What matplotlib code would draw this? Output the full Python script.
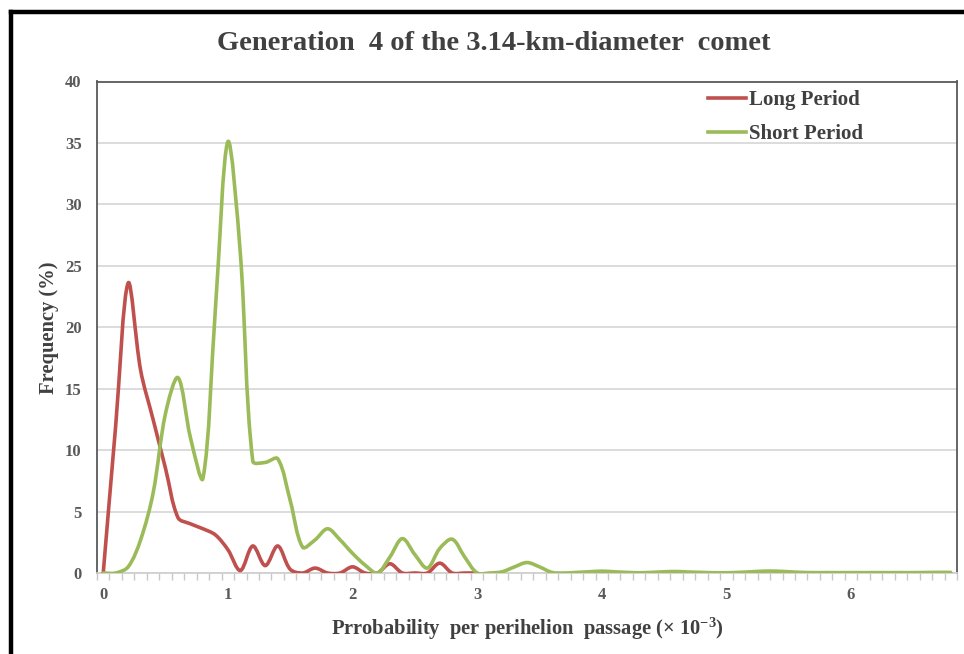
import matplotlib
matplotlib.use("Agg")
import matplotlib.pyplot as plt
import numpy as np
from matplotlib.path import Path
from matplotlib.patches import PathPatch
from matplotlib.lines import Line2D

plt.rcParams['font.family'] = ['Liberation Serif', 'DejaVu Serif']
plt.rcParams['font.weight'] = 'bold'
plt.rcParams['mathtext.fontset'] = 'custom'
plt.rcParams['mathtext.rm'] = 'Liberation Serif:bold'
plt.rcParams['mathtext.it'] = 'Liberation Serif:bold'

# categories: probability per perihelion passage (x 10^-3), step 0.1
prob = np.round(np.arange(0, 6.85, 0.1), 1)

long_period = [0, 12, 23.6, 16.5, 12.5, 8.5, 4.5, 4.0, 3.6, 3.1,
               1.9, 0.2, 2.2, 0.6, 2.2, 0.3, 0, 0.4, 0, 0,
               0.5, 0, 0, 0.75, 0, 0, 0, 0.8, 0, 0,
               0]

short_period = [0, 0, 0.5, 2.7, 6.5, 13.0, 15.9, 11.0, 7.7, 21.5,
                35.1, 26.0, 9.1, 9.0, 9.3, 5.9, 2.1, 2.7, 3.6, 2.7,
                1.6, 0.65, 0, 1.3, 2.8, 1.5, 0.4, 2.0, 2.75, 1.3,
                0, 0, 0.1, 0.5, 0.85, 0.5, 0.05, 0, 0.05, 0.1,
                0.15, 0.1, 0.05, 0.02, 0.05, 0.1, 0.12, 0.08, 0.05, 0.02,
                0.02, 0.05, 0.1, 0.15, 0.15, 0.1, 0.05, 0.03, 0.03, 0.03,
                0.03, 0.03, 0.03, 0.03, 0.03, 0.03, 0.04, 0.05, 0.05]

series = [("Long Period", long_period, "#C0504D"),
          ("Short Period", short_period, "#9BBB59")]

y_ticks = [0, 5, 10, 15, 20, 25, 30, 35, 40]
x_ticks = [0, 1, 2, 3, 4, 5, 6]

W, H = 964, 654
left, right, top, bottom = 97, 957, 81.5, 573
xlim = (-0.05, 6.85)
ylim = (0, 40)
# pixels per data unit, used to weight the smoothing handles
sx = (right - left) / (xlim[1] - xlim[0])
sy = (bottom - top) / (ylim[1] - ylim[0])


def smooth_path(x, y, t=1 / 3.0):
    # smoothed line like excel: bezier through every point,
    # handle lengths proportional to neighbouring segment lengths (on screen)
    p = np.column_stack([x, y]).astype(float)
    n = len(p)
    scr = p * [sx, sy]
    cin = [p[0]] * n
    cout = [p[0]] * n
    for i in range(n):
        a = max(i - 1, 0)
        b = min(i + 1, n - 1)
        d0 = np.hypot(*(scr[i] - scr[a]))
        d1 = np.hypot(*(scr[b] - scr[i]))
        tot = d0 + d1
        if tot == 0:
            cin[i] = cout[i] = p[i]
            continue
        tang = p[b] - p[a]
        cin[i] = p[i] - t * d0 / tot * tang
        cout[i] = p[i] + t * d1 / tot * tang
    verts = [p[0]]
    codes = [Path.MOVETO]
    for i in range(n - 1):
        verts += [cout[i], cin[i + 1], p[i + 1]]
        codes += [Path.CURVE4] * 3
    return Path(verts, codes)


fig = plt.figure(figsize=(W / 100, H / 100), dpi=100)

# outer black frame (top + left)
fig.add_artist(Line2D([11 / W, 11 / W], [0, 1 - 12 / H], color='black', lw=3.2,
                      transform=fig.transFigure, solid_capstyle='projecting'))
fig.add_artist(Line2D([11 / W, 1], [1 - 12 / H, 1 - 12 / H], color='black', lw=3.2,
                      transform=fig.transFigure, solid_capstyle='projecting'))

ax = fig.add_axes([left / W, 1 - bottom / H, (right - left) / W, (bottom - top) / H])

for name, vals, col in series:
    xs = prob[:len(vals)]
    ax.add_patch(PathPatch(smooth_path(xs, vals), fill=False, edgecolor=col,
                           lw=2.6, capstyle='round', joinstyle='round', zorder=3))

ax.set_xlim(*xlim)
ax.set_ylim(*ylim)

ax.set_yticks(y_ticks)
ax.set_xticks(x_ticks)
ax.set_xticks(np.arange(-0.05, 6.9, 0.1), minor=True)
ax.tick_params(axis='y', length=0, pad=11, labelsize=12, labelcolor='#595959')
ax.tick_params(axis='x', which='major', length=0, pad=10, labelsize=12, labelcolor='#595959')
ax.tick_params(axis='x', which='minor', length=5, width=1, color='#C8C8C8', direction='out')

ax.grid(axis='y', color='#D9D9D9', lw=1.3)
ax.set_axisbelow(True)

for s in ['left', 'top', 'right']:
    ax.spines[s].set_color('#595959')
    ax.spines[s].set_linewidth(1.3)
ax.spines['bottom'].set_color('#D0D0D0')
ax.spines['bottom'].set_linewidth(1.3)

ax.set_xlabel("Prrobability  per perihelion  passage (× 10$^{-3}$)", fontsize=14.8,
              fontweight='bold', color='#404040', labelpad=9)
ax.set_ylabel("Frequency (%)", fontsize=14.8, fontweight='bold', color='#404040',
              labelpad=4)

fig.text(494 / W, 1 - 43 / H, "Generation  4 of the 3.14-km-diameter  comet",
         ha='center', va='center', fontsize=20.5, fontweight='bold', color='#404040')

handles = [Line2D([], [], color=c, lw=2.6) for _, _, c in series]
leg = ax.legend(handles, [n for n, _, _ in series], loc='upper left',
                bbox_to_anchor=(708 / W, 1 - 90 / H), bbox_transform=fig.transFigure,
                frameon=False, fontsize=15, handlelength=1.8, handletextpad=0.15,
                labelspacing=0.68, borderpad=0, borderaxespad=0)
for t in leg.get_texts():
    t.set_color('#404040')

fig.savefig("out.png", dpi=100)
